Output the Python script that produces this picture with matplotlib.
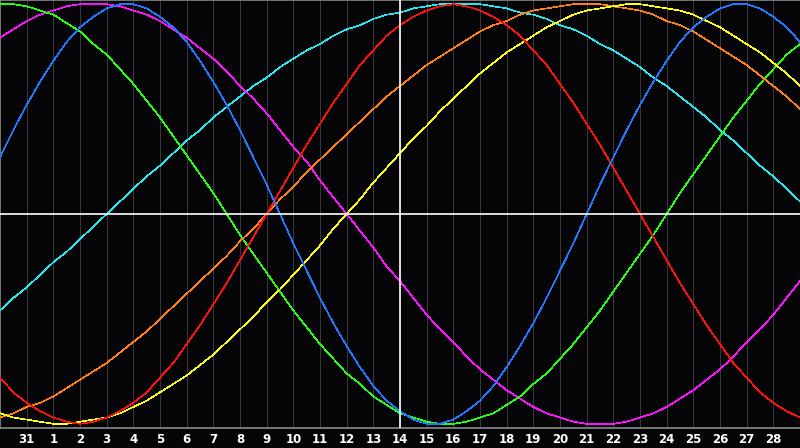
import numpy as np
import matplotlib
matplotlib.use("Agg")
import matplotlib.pyplot as plt

# day labels along the bottom (index 0 = 30th, left edge; index 30 = 29th, right edge)
days = [30, 31] + list(range(1, 30))
today_idx = 15  # day 14

# cycle values in percent, read every half day from the left edge to the right edge
physical = [27, 40, 52, 63, 73, 82, 89, 94, 98, 100, 100, 98, 94, 89, 82, 73, 63, 52, 40, 27,
            14, 0, -14, -27, -40, -52, -63, -73, -82, -89, -94, -98, -100, -100, -98, -94, -89,
            -82, -73, -63, -52, -40, -27, -14, 0, 14, 27, 40, 52, 63, 73, 82, 89, 94, 98, 100,
            100, 98, 94, 89, 82]
emotional = [-78, -85, -90, -94, -97, -99, -100, -99, -97, -94, -90, -85, -78, -71, -62, -53,
             -43, -33, -22, -11, 0, 11, 22, 33, 43, 53, 62, 71, 78, 85, 90, 94, 97, 99, 100, 99,
             97, 94, 90, 85, 78, 71, 62, 53, 43, 33, 22, 11, 0, -11, -22, -33, -43, -53, -62,
             -71, -78, -85, -90, -94, -97]
intellectual = [100, 100, 99, 97, 95, 91, 87, 81, 76, 69, 62, 54, 46, 37, 28, 19, 10, 0, -10,
                -19, -28, -37, -46, -54, -62, -69, -76, -81, -87, -91, -95, -97, -99, -100, -100,
                -99, -97, -95, -91, -87, -81, -76, -69, -62, -54, -46, -37, -28, -19, -10, 0, 10,
                19, 28, 37, 46, 54, 62, 69, 76, 81]
intuitive = [84, 88, 92, 95, 97, 99, 100, 100, 100, 99, 97, 95, 92, 88, 84, 79, 74, 68, 61, 55,
             48, 40, 32, 25, 16, 8, 0, -8, -16, -25, -32, -40, -48, -55, -61, -68, -74, -79, -84,
             -88, -92, -95, -97, -99, -100, -100, -100, -99, -97, -95, -92, -88, -84, -79, -74,
             -68, -61, -55, -48, -40, -32]
aesthetic = [-95, -97, -98, -99, -100, -100, -99, -98, -97, -95, -92, -89, -85, -81, -77, -72,
             -67, -61, -55, -49, -42, -36, -29, -22, -15, -7, 0, 7, 15, 22, 29, 36, 42, 49, 55,
             61, 67, 72, 77, 81, 85, 89, 92, 95, 97, 98, 99, 100, 100, 99, 98, 97, 95, 92, 89,
             85, 81, 77, 72, 67, 61]
awareness = [-97, -95, -92, -90, -87, -83, -79, -75, -71, -66, -61, -56, -50, -44, -38, -32,
             -26, -20, -13, -7, 0, 7, 13, 20, 26, 32, 38, 44, 50, 56, 61, 66, 71, 75, 79, 83, 87,
             90, 92, 95, 97, 98, 99, 100, 100, 100, 99, 98, 97, 95, 92, 90, 87, 83, 79, 75, 71,
             66, 61, 56, 50]
spiritual = [-46, -40, -35, -29, -23, -18, -12, -6, 0, 6, 12, 18, 23, 29, 35, 40, 46, 51, 56,
             61, 65, 70, 74, 78, 81, 85, 88, 90, 93, 95, 96, 98, 99, 100, 100, 100, 100, 99, 98,
             96, 95, 93, 90, 88, 85, 81, 78, 74, 70, 65, 61, 56, 51, 46, 40, 35, 29, 23, 18, 12, 6]

series = [
    (spiritual, "#22e8f0"),
    (intuitive, "#ff10ff"),
    (intellectual, "#22ff10"),
    (awareness, "#ff8010"),
    (aesthetic, "#ffff10"),
    (emotional, "#ff1010"),
    (physical, "#2078ff"),
]

bg = "#050508"
fig = plt.figure(figsize=(8, 4.48), dpi=100, facecolor=bg)
ax = fig.add_axes([0, 20 / 448, 1, 428 / 448])
ax.set_facecolor(bg)

x = np.arange(len(days))
xs = np.arange(len(physical)) / 2  # half-day steps

# day gridlines
for i in x[1:-1]:
    ax.axvline(i, color="#3a3a3e", lw=0.7, zorder=1)

for vals, col in series:
    ax.plot(xs, vals, color=col, lw=0.45, antialiased=False, zorder=3)

ax.axhline(0, color="white", lw=1.2, zorder=4)
ax.axvline(today_idx, color="white", lw=1.2, zorder=4)

ax.set_xlim(0, len(days) - 1)
ax.set_ylim(-102, 102)

ax.spines["right"].set_visible(False)
for side in ["left", "top", "bottom"]:
    ax.spines[side].set_color("#8a8a8a")
    ax.spines[side].set_linewidth(1.2)

ax.set_yticks([])
ax.set_xticks(x[1:-1])
ax.set_xticklabels([str(d) for d in days[1:-1]], color="white",
                   fontsize=8.5, fontweight="bold")
ax.tick_params(axis="x", length=0, pad=3.5)

fig.savefig("out.png", dpi=100, facecolor=bg)
